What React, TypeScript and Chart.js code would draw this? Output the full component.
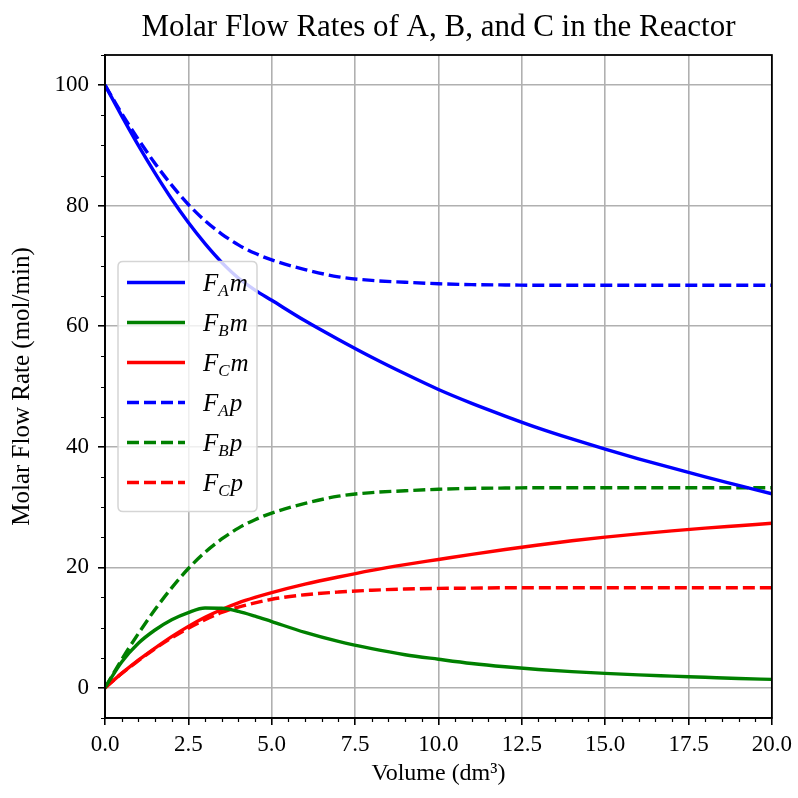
import React, { useEffect, useRef } from 'react';
import { Chart, registerables } from 'chart.js';

Chart.register(...registerables);

// ---- data ----
const volume = [0, 0.5, 1, 1.5, 2, 2.5, 3, 3.5, 4, 4.5, 5, 6, 7, 8, 9, 10, 11, 12, 13, 14, 15, 16, 17, 18, 19, 20];
const FAm = [100, 94.9, 90.0, 85.4, 81.1, 77.2, 73.7, 70.6, 68.0, 66.0, 64.3, 60.9, 57.8, 54.85, 52.1, 49.5, 47.2, 45.1, 43.1, 41.3, 39.6, 38.0, 36.5, 35.0, 33.6, 32.2];
const FBm = [0, 4.3, 7.4, 9.6, 11.3, 12.5, 13.25, 13.2, 12.7, 11.9, 11.0, 9.2, 7.7, 6.5, 5.5, 4.75, 4.05, 3.5, 3.05, 2.7, 2.4, 2.15, 1.95, 1.75, 1.55, 1.4];
const FCm = [0, 2.4, 4.6, 6.6, 8.5, 10.2, 11.7, 13.0, 14.1, 15.0, 15.8, 17.2, 18.4, 19.5, 20.45, 21.3, 22.15, 22.95, 23.7, 24.4, 25.0, 25.55, 26.05, 26.5, 26.9, 27.3];
const FAp = [100, 95.3, 91.0, 87.0, 83.4, 80.2, 77.5, 75.3, 73.5, 72.1, 71.0, 69.4, 68.2, 67.6, 67.3, 67.05, 66.9, 66.85, 66.8, 66.8, 66.8, 66.8, 66.8, 66.8, 66.8, 66.8];
const FBp = [0, 4.7, 9.0, 13.0, 16.6, 19.8, 22.5, 24.7, 26.5, 27.9, 29.0, 30.6, 31.8, 32.4, 32.7, 32.95, 33.1, 33.15, 33.2, 33.2, 33.2, 33.2, 33.2, 33.2, 33.2, 33.2];
const FCp = [0, 2.4, 4.5, 6.5, 8.3, 9.9, 11.3, 12.5, 13.4, 14.1, 14.7, 15.45, 15.9, 16.2, 16.4, 16.5, 16.55, 16.6, 16.6, 16.6, 16.6, 16.6, 16.6, 16.6, 16.6, 16.6];

const xTicks = [0, 2.5, 5, 7.5, 10, 12.5, 15, 17.5, 20];
const yTicks = [0, 20, 40, 60, 80, 100];
const xMinorStep = 0.5;
const yMinorStep = 5;

const titleText = 'Molar Flow Rates of A, B, and C in the Reactor';
const xTitle = 'Volume (dm\u00B3)';
const yTitle = 'Molar Flow Rate (mol/min)';

// legend labels: [main, subscript, tail]
const legendParts = [
  ['F', 'A', 'm'],
  ['F', 'B', 'm'],
  ['F', 'C', 'm'],
  ['F', 'A', 'p'],
  ['F', 'B', 'p'],
  ['F', 'C', 'p'],
];

const FONT = '"Liberation Serif", serif';

const series = [
  { data: FAm, color: '#0000ff', dashed: false },
  { data: FBm, color: '#008000', dashed: false },
  { data: FCm, color: '#ff0000', dashed: false },
  { data: FAp, color: '#0000ff', dashed: true },
  { data: FBp, color: '#008000', dashed: true },
  { data: FCp, color: '#ff0000', dashed: true },
];

const DASH = [12, 5];
const LW = 3.4;

const decorPlugin = {
  id: 'decor',
  afterDatasetsDraw(chart: any) {
    const ctx = chart.ctx;
    const ca = chart.chartArea;
    const xs = chart.scales.x;
    const ys = chart.scales.y;
    ctx.save();
    // title centred over the plot area
    ctx.fillStyle = '#000';
    ctx.font = `31px ${FONT}`;
    ctx.textAlign = 'center';
    ctx.textBaseline = 'middle';
    ctx.fillText(titleText, (ca.left + ca.right) / 2, 28);

    // frame (all four spines)
    ctx.strokeStyle = '#000';
    ctx.lineWidth = 1.8;
    ctx.strokeRect(ca.left, ca.top, ca.right - ca.left, ca.bottom - ca.top);
    // minor ticks
    ctx.lineWidth = 1.2;
    ctx.beginPath();
    for (let v = xs.min; v <= xs.max + 1e-9; v += xMinorStep) {
      if (xTicks.some((t) => Math.abs(t - v) < 1e-9)) continue;
      const px = Math.round(xs.getPixelForValue(v)) + 0.5;
      ctx.moveTo(px, ca.bottom);
      ctx.lineTo(px, ca.bottom + 4);
    }
    for (let v = -5; v <= ys.max + 1e-9; v += yMinorStep) {
      if (yTicks.some((t) => Math.abs(t - v) < 1e-9)) continue;
      const py = Math.round(ys.getPixelForValue(v)) + 0.5;
      ctx.moveTo(ca.left, py);
      ctx.lineTo(ca.left - 4, py);
    }
    ctx.stroke();

    // legend
    const boxW = 139;
    const rowH = 40;
    const boxH = 250;
    const bx = ca.left + 13;
    const by = (ca.top + ca.bottom) / 2 - boxH / 2;
    const r = 5;
    ctx.beginPath();
    ctx.moveTo(bx + r, by);
    ctx.lineTo(bx + boxW - r, by);
    ctx.quadraticCurveTo(bx + boxW, by, bx + boxW, by + r);
    ctx.lineTo(bx + boxW, by + boxH - r);
    ctx.quadraticCurveTo(bx + boxW, by + boxH, bx + boxW - r, by + boxH);
    ctx.lineTo(bx + r, by + boxH);
    ctx.quadraticCurveTo(bx, by + boxH, bx, by + boxH - r);
    ctx.lineTo(bx, by + r);
    ctx.quadraticCurveTo(bx, by, bx + r, by);
    ctx.closePath();
    ctx.fillStyle = 'rgba(255,255,255,0.8)';
    ctx.fill();
    ctx.strokeStyle = '#d5d5d5';
    ctx.lineWidth = 1.5;
    ctx.stroke();

    chart.data.datasets.forEach((ds: any, i: number) => {
      const cy = by + 21 + i * rowH;
      ctx.beginPath();
      ctx.strokeStyle = ds.borderColor;
      ctx.lineWidth = LW;
      ctx.setLineDash(ds.borderDash || []);
      ctx.moveTo(bx + 9, cy);
      ctx.lineTo(bx + 67, cy);
      ctx.stroke();
      ctx.setLineDash([]);
      const parts = legendParts[i];
      ctx.fillStyle = '#000';
      ctx.textBaseline = 'alphabetic';
      ctx.textAlign = 'left';
      let tx = bx + 85;
      const base = cy + 8;
      ctx.font = `italic 25px ${FONT}`;
      ctx.fillText(parts[0], tx, base);
      tx += ctx.measureText(parts[0]).width;
      ctx.font = `italic 17px ${FONT}`;
      ctx.fillText(parts[1], tx, base + 5);
      tx += ctx.measureText(parts[1]).width + 1;
      ctx.font = `italic 25px ${FONT}`;
      ctx.fillText(parts[2], tx, base);
    });
    ctx.restore();
  },
};

export default function App() {
  const ref = useRef<HTMLCanvasElement | null>(null);
  useEffect(() => {
    if (!ref.current) return;
    const datasets = series.map((s, i) => ({
      label: legendParts[i].join(''),
      data: volume.map((v, j) => ({ x: v, y: s.data[j] })),
      borderColor: s.color,
      backgroundColor: s.color,
      borderWidth: LW,
      borderDash: s.dashed ? DASH : [],
      pointRadius: 0,
      fill: false,
      cubicInterpolationMode: 'monotone' as const,
    }));
    const chart = new Chart(ref.current, {
      type: 'line',
      data: { datasets },
      options: {
        responsive: false,
        animation: false,
        layout: { padding: { top: 55, right: 23, left: 0, bottom: 0 } },
        plugins: {
          legend: { display: false },
          tooltip: { enabled: false },
          title: { display: false },
        },
        scales: {
          x: {
            type: 'linear',
            min: 0,
            max: 20,
            afterBuildTicks: (scale: any) => {
              scale.ticks = xTicks.map((v) => ({ value: v }));
            },
            afterFit: (scale: any) => {
              scale.height = 80;
            },
            ticks: {
              color: '#000',
              font: { family: FONT, size: 23 },
              padding: 6,
              maxRotation: 0,
              autoSkip: false,
              callback: (v: any) => Number(v).toFixed(1),
            },
            grid: {
              color: '#b0b0b0',
              lineWidth: 1.6,
              drawTicks: true,
              tickLength: 7,
              tickColor: '#000',
              tickWidth: 1.6,
            },
            border: { color: '#000', width: 1.8 },
            title: {
              display: true,
              text: xTitle,
              color: '#000',
              font: { family: FONT, size: 24 },
              padding: { top: 0, bottom: 10 },
            },
          },
          y: {
            type: 'linear',
            min: -5,
            max: 105,
            afterBuildTicks: (scale: any) => {
              scale.ticks = yTicks.map((v) => ({ value: v }));
            },
            afterFit: (scale: any) => {
              scale.width = 105;
            },
            ticks: {
              color: '#000',
              font: { family: FONT, size: 23 },
              padding: 9,
              autoSkip: false,
              callback: (v: any) => String(v),
            },
            grid: {
              color: '#b0b0b0',
              lineWidth: 1.6,
              drawTicks: true,
              tickLength: 7,
              tickColor: '#000',
              tickWidth: 1.6,
            },
            border: { color: '#000', width: 1.8 },
            title: {
              display: true,
              text: yTitle,
              color: '#000',
              font: { family: FONT, size: 25 },
              padding: { top: 7, bottom: 0 },
            },
          },
        },
      },
      plugins: [decorPlugin],
    } as any);
    return () => chart.destroy();
  }, []);
  return (
    <canvas
      ref={ref}
      width={798}
      height={798}
      style={{ position: 'absolute', left: 0, top: 0, width: 798, height: 798 }}
    />
  );
}
